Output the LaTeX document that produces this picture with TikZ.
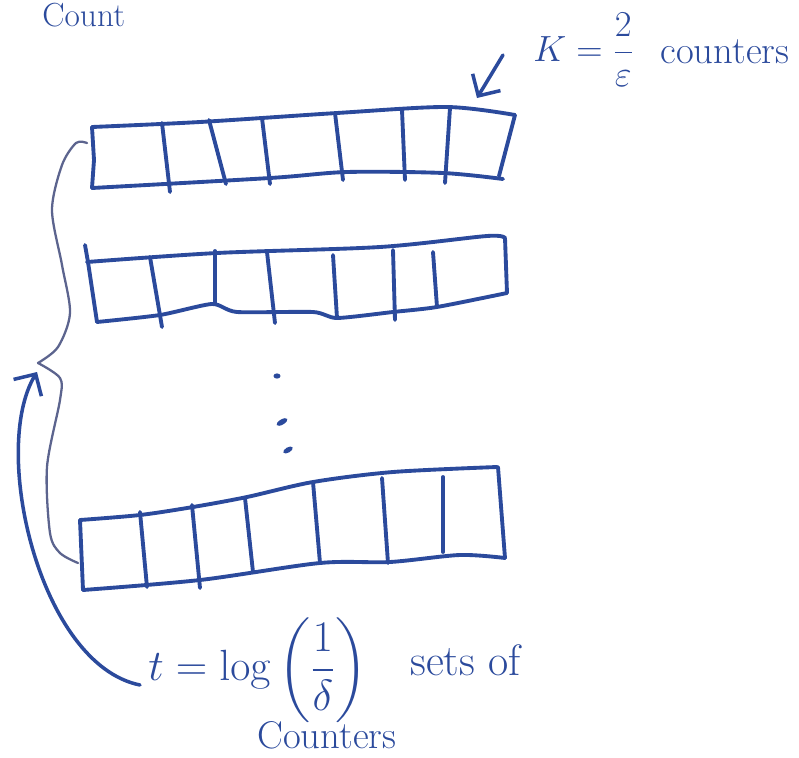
\documentclass[tikz,border=0pt]{standalone}
\usepackage{amsmath}
\usetikzlibrary{arrows.meta,positioning,calc,shapes.geometric}
\definecolor{InkBlue}{HTML}{2B4A9C}
\definecolor{BraceGray}{HTML}{5C648E}
\tikzset{
    % Outline of a row of counters
    rowline/.style={
        draw=InkBlue,
        line width=2.2pt,
        line cap=round,
        line join=round
    },
    % Divider between two counters
    cellline/.style={
        draw=InkBlue,
        line width=2.2pt,
        line cap=round
    },
    % Hand written label
    inknode/.style={
        text=InkBlue,
        inner sep=0pt,
        font=\fontsize{22}{26}\selectfont
    },
    % Larger hand written label
    bignode/.style={
        inknode,
        font=\fontsize{25}{30}\selectfont
    },
    % Hand drawn arrow
    inkarrow/.style={
        -{Straight Barb[length=3.2mm,width=6.5mm]},
        draw=InkBlue,
        line width=2pt,
        line cap=round
    },
    % Curly brace (pencil)
    bracepath/.style={
        draw=BraceGray,
        line width=1.3pt,
        line cap=round
    },
    % Vertical dots
    dotmark/.style={
        ellipse,
        fill=InkBlue,
        inner sep=0pt,
        minimum width=4pt,
        minimum height=3pt
    }
}

\begin{document}
\begin{tikzpicture}[x=0.02cm, y=-0.02cm]
    \useasboundingbox (0,0) rectangle (799,758);

    % Title
    \node[inknode, font=\fontsize{19}{22}\selectfont, anchor=base west] (title) at (42,26) {Count};

    % Row 1
    \draw[rowline] plot[smooth] coordinates {(92,127) (200,122) (337,113) (447,107) (515,115)};
    \draw[rowline] (515,115) -- (499,176);
    \draw[rowline] plot[smooth] coordinates {(92,188) (270,178) (347,172) (443,173) (503,179)};
    \draw[rowline] (92,127) -- (94,160) -- (92,188);
    \draw[cellline] (162,123) -- (170,192);
    \draw[cellline] (209,120) -- (226,184);
    \draw[cellline] (262,118) -- (270,184);
    \draw[cellline] (335,113) -- (343,180);
    \draw[cellline] (402,110) -- (405,180);
    \draw[cellline] (450,108) -- (445,183);

    % Row 2
    \draw[rowline] plot[smooth] coordinates {(87,262) (217,253) (380,247) (487,236) (505,238)};
    \draw[rowline] (85,245) -- (88,262) -- (97,322);
    \draw[rowline] plot[smooth, tension=0.4] coordinates {(97,322) (160,315) (212,304) (237,312) (313,312) (337,318) (393,312) (437,307) (507,293)};
    \draw[rowline] (505,238) -- (507,293);
    \draw[cellline] (150,257) -- (162,327);
    \draw[cellline] (215,251) -- (215,303);
    \draw[cellline] (267,252) -- (275,323);
    \draw[cellline] (333,255) -- (337,318);
    \draw[cellline] (393,250) -- (395,320);
    \draw[cellline] (433,252) -- (437,307);

    % Dots
    \node[dotmark] (dota) at (277,376) {};
    \node[dotmark, rotate=30, minimum width=7pt] (dotb) at (282,422) {};
    \node[dotmark, rotate=30, minimum width=6pt] (dotc) at (288,450) {};

    % Row t
    \draw[rowline] plot[smooth] coordinates {(80,520) (140,515) (193,507) (247,497) (313,482) (393,472) (497,467)};
    \draw[rowline] (80,520) -- (83,590);
    \draw[rowline] plot[smooth] coordinates {(83,590) (200,580) (320,563) (390,562) (460,555) (505,558)};
    \draw[rowline] (498,467) -- (505,558);
    \draw[cellline] (140,512) -- (147,587);
    \draw[cellline] (192,505) -- (200,588);
    \draw[cellline] (245,498) -- (253,572);
    \draw[cellline] (313,482) -- (320,563);
    \draw[cellline] (382,478) -- (388,563);
    \draw[cellline] (443,477) -- (443,552);

    % Brace
    \coordinate (bracetip) at (38,363);
    \draw[bracepath] plot[smooth] coordinates {(87,143) (76,143) (62,165) (52,210) (62,265) (70,313) (58,347) (bracetip)};
    \draw[bracepath] plot[smooth] coordinates {(bracetip) (60,378) (60,400) (47,467) (50,533) (60,553) (78,563)};

    % Labels
    \node[inknode, anchor=west] (klbl) at (533,50) {$K=\dfrac{2}{\varepsilon}$};
    \node[inknode, anchor=west] (kcount) at (660,52) {counters};
    \node[bignode, anchor=west] (tlbl) at (148,670) {$t=\log\left(\dfrac{1}{\delta}\right)$};
    \node[bignode, anchor=west] (tsets) at (410,660) {sets of};
    \node[inknode, anchor=west] (tcount) at (257,735) {Counters};

    % Arrows
    \coordinate (kstart) at (503,55);
    \coordinate (kend) at (477,98);
    \draw[inkarrow] (kstart) -- (kend);
    \coordinate (tstart) at (140,685);
    \coordinate (tend) at (37,372);
    \draw[inkarrow] (tstart) .. controls (40,665) and (-10,450) .. (tend);
\end{tikzpicture}
\end{document}
